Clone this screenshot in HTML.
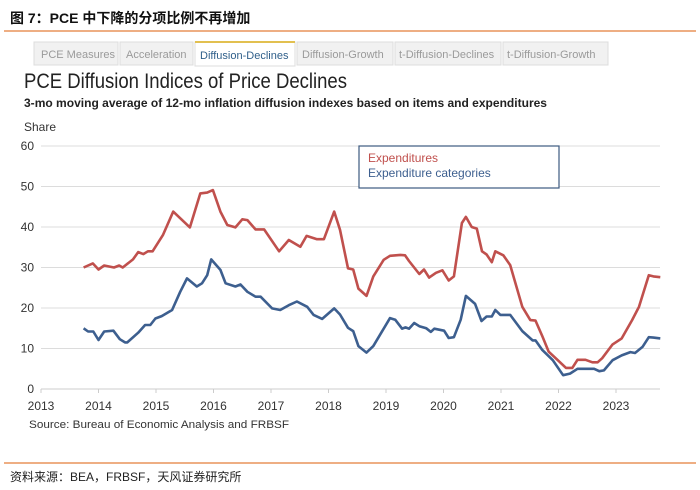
<!DOCTYPE html>
<html><head><meta charset="utf-8"><style>
body{margin:0;background:#fff;}
svg{display:block;font-family:"Liberation Sans","Noto Sans CJK SC",sans-serif;}
</style></head><body>
<svg id="c" width="700" height="490" viewBox="0 0 700 490">
<text x="10" y="23" font-size="14" font-weight="bold" fill="#111" font-family="Liberation Sans, Noto Sans CJK SC, sans-serif">图 7：PCE 中下降的分项比例不再增加</text>
<line x1="4" y1="31" x2="696" y2="31" stroke="#e8935a" stroke-width="1.5"/>
<g font-size="11" fill="#9a9a9a">
<rect x="34" y="42" width="84" height="23" fill="#f1f1f1" stroke="#ddd"/><text x="41" y="58">PCE Measures</text>
<rect x="120" y="42" width="73" height="23" fill="#f1f1f1" stroke="#ddd"/><text x="126" y="58">Acceleration</text>
<rect x="195" y="42" width="100" height="24" fill="#fff" stroke="#ddd"/><line x1="195" y1="42" x2="295" y2="42" stroke="#e2c050" stroke-width="2"/><text x="200" y="59" fill="#2f5f8a">Diffusion-Declines</text>
<rect x="297" y="42" width="96" height="23" fill="#f1f1f1" stroke="#ddd"/><text x="302" y="58">Diffusion-Growth</text>
<rect x="395" y="42" width="106" height="23" fill="#f1f1f1" stroke="#ddd"/><text x="399" y="58">t-Diffusion-Declines</text>
<rect x="503" y="42" width="105" height="23" fill="#f1f1f1" stroke="#ddd"/><text x="507" y="58">t-Diffusion-Growth</text>
</g>
<text x="24" y="88" font-size="21" fill="#222" textLength="323" lengthAdjust="spacingAndGlyphs">PCE Diffusion Indices of Price Declines</text>
<text x="24" y="107" font-size="12" fill="#222" font-weight="bold" textLength="523" lengthAdjust="spacingAndGlyphs">3-mo moving average of 12-mo inflation diffusion indexes based on items and expenditures</text>
<text x="24" y="131" font-size="12" fill="#333">Share</text>
<g id="grid"></g><g id="ticks"></g><g id="series"></g>
<rect x="359" y="146" width="200" height="42" fill="#fff" stroke="#3d5a80" stroke-width="1.2"/>
<text x="368" y="162" font-size="12" fill="#c0504d">Expenditures</text>
<text x="368" y="177" font-size="12" fill="#3d5f8f">Expenditure categories</text>
<text x="29" y="428" font-size="11" fill="#333" textLength="260" lengthAdjust="spacingAndGlyphs">Source: Bureau of Economic Analysis and FRBSF</text>
<line x1="4" y1="463" x2="696" y2="463" stroke="#e8935a" stroke-width="1.5"/>
<text x="10" y="481" font-size="12" fill="#222" font-family="Liberation Sans, Noto Sans CJK SC, sans-serif">资料来源：BEA，FRBSF，天风证券研究所</text>
</svg>
<script>
const yTicks=[0,10,20,30,40,50,60];
const xTicks=[2013,2014,2015,2016,2017,2018,2019,2020,2021,2022,2023];
const expDates=[2013.74,2013.9,2014.0,2014.1,2014.27,2014.36,2014.42,2014.6,2014.69,2014.78,2014.86,2014.94,2015.12,2015.3,2015.59,2015.77,2015.89,2015.99,2016.12,2016.24,2016.38,2016.5,2016.59,2016.73,2016.88,2017.14,2017.31,2017.51,2017.62,2017.8,2017.92,2018.1,2018.2,2018.34,2018.43,2018.52,2018.66,2018.78,2018.96,2019.07,2019.25,2019.33,2019.4,2019.58,2019.66,2019.75,2019.87,2019.98,2020.09,2020.18,2020.32,2020.39,2020.49,2020.58,2020.67,2020.75,2020.84,2020.9,2021.04,2021.16,2021.37,2021.51,2021.6,2021.72,2021.83,2021.98,2022.13,2022.24,2022.33,2022.47,2022.59,2022.68,2022.76,2022.94,2023.1,2023.28,2023.4,2023.57,2023.65,2023.77];
const expValues=[30,31,29.5,30.5,30,30.5,30,32,33.8,33.3,34,34,38,43.8,39.9,48.3,48.5,49.1,43.8,40.5,39.9,41.9,41.7,39.4,39.4,34,36.8,35.1,37.8,37,37,43.8,39.3,29.8,29.5,24.8,23,27.8,31.9,32.9,33.1,33,31.6,28.4,29.5,27.5,28.7,29.3,26.8,27.8,41,42.5,40,39.6,34,33.2,31.3,34,33,30.6,20.3,17,16.9,13,9.2,7.2,5.2,5.2,7.2,7.2,6.6,6.6,7.6,11,12.5,17,20.3,28.1,27.8,27.6];
const catDates=[2013.74,2013.82,2013.91,2014.0,2014.1,2014.26,2014.37,2014.46,2014.5,2014.69,2014.81,2014.9,2014.99,2015.1,2015.28,2015.42,2015.54,2015.71,2015.8,2015.89,2015.96,2016.12,2016.21,2016.38,2016.47,2016.59,2016.73,2016.82,2017.02,2017.16,2017.31,2017.45,2017.63,2017.74,2017.89,2018.1,2018.2,2018.34,2018.43,2018.52,2018.66,2018.78,2018.9,2019.07,2019.16,2019.28,2019.34,2019.4,2019.49,2019.58,2019.7,2019.78,2019.84,2020.01,2020.09,2020.18,2020.3,2020.39,2020.55,2020.66,2020.75,2020.84,2020.9,2020.99,2021.16,2021.37,2021.55,2021.6,2021.72,2021.9,2022.08,2022.2,2022.33,2022.47,2022.62,2022.71,2022.79,2022.94,2023.1,2023.25,2023.33,2023.46,2023.57,2023.65,2023.77];
const catValues=[15,14.2,14.2,12.1,14.2,14.4,12.3,11.5,11.5,13.9,15.8,15.8,17.4,18,19.5,24,27.3,25.3,26.1,28.1,32,29.4,26.1,25.3,25.8,24,22.8,22.8,19.9,19.5,20.7,21.6,20.3,18.3,17.3,19.9,18.4,15.1,14.3,10.6,9,10.6,13.5,17.5,17.1,14.9,15.2,14.9,16.3,15.5,15,14.1,14.9,14.4,12.6,12.8,17.1,23,21,16.8,17.9,17.9,19.5,18.3,18.3,14.3,12,12,9.6,7.1,3.4,3.8,5,5,5,4.4,4.6,7.1,8.3,9.1,8.9,10.4,12.8,12.7,12.5];
const NS='http://www.w3.org/2000/svg';
const X=t=>41+(t-2013)*57.5;
const Y=v=>389-v*4.05;
function mk(tag,attrs,parent){const e=document.createElementNS(NS,tag);for(const k in attrs)e.setAttribute(k,attrs[k]);parent.appendChild(e);return e;}
const grid=document.getElementById('grid'),ticks=document.getElementById('ticks'),series=document.getElementById('series');
yTicks.forEach(v=>{
  if(v>0){const l=mk('line',{x1:41,x2:660,y1:Y(v),y2:Y(v),stroke:'#dcdcdc','stroke-width':1},grid);
  
  }
  const t=mk('text',{x:34,y:Y(v)+4,'font-size':12,fill:'#333','text-anchor':'end'},ticks);
  t.textContent=v;
  
  
});
const ax=mk('line',{x1:41,x2:660,y1:Y(0),y2:Y(0),stroke:'#ccc','stroke-width':1},grid);


xTicks.forEach(y=>{
  const tk=mk('line',{x1:X(y),x2:X(y),y1:Y(0),y2:Y(0)+4,stroke:'#ccc'},ticks);
  
  
  const t=mk('text',{x:X(y),y:410,'font-size':12,fill:'#333','text-anchor':'middle'},ticks);
  t.textContent=y;
  
  
});
function line(d,v,col,name){
  const p=mk('polyline',{points:d.map((t,i)=>X(t).toFixed(1)+','+Y(v[i]).toFixed(1)).join(' '),fill:'none',stroke:col,'stroke-width':2.6,'stroke-linejoin':'round'},series);
  
  
}
line(expDates,expValues,'#c0504d','expenditures-line');
line(catDates,catValues,'#3d5f8f','expenditure-categories-line');
</script>
</body></html>
